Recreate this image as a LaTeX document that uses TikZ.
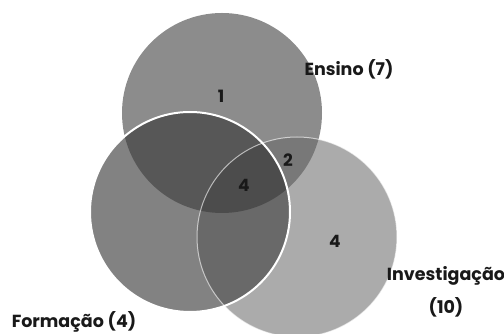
\documentclass[tikz,border=0pt]{standalone}
\usepackage{fontspec}
\setmainfont{Poppins}
\begin{document}
\begin{tikzpicture}[x=1pt,y=1pt,
  lbl/.style={font=\bfseries\fontsize{17.5}{20}\selectfont, text=black!90, inner sep=0pt},
  num/.style={font=\bfseries\fontsize{17}{20}\selectfont, text=black!90, inner sep=0pt}]
\useasboundingbox (0,0) rectangle (504,334);
\def\R{100}
\coordinate (cE) at (222,221);
\coordinate (cF) at (190,122);
\coordinate (cI) at (297,97);
% single regions
\fill[black!45] (cE) circle (\R);
\fill[black!33] (cI) circle (\R);
\fill[black!49] (cF) circle (\R);
% pairwise
\begin{scope}
  \clip (cE) circle (\R);
  \fill[black!53] (cI) circle (\R);
\end{scope}
\begin{scope}
  \clip (cE) circle (\R);
  \fill[black!66] (cF) circle (\R);
\end{scope}
\begin{scope}
  \clip (cF) circle (\R);
  \fill[black!59] (cI) circle (\R);
\end{scope}
\begin{scope}
  \clip (cF) circle (\R);
  \clip (cE) circle (\R);
  \fill[black!70] (cI) circle (\R);
\end{scope}
% outlines
\draw[white, opacity=0.6, line width=1pt] (cI) circle (\R);
\draw[white, line width=2pt] (cF) circle (\R);
% labels
\node[num] (n1) at (221,238) {1};
\node[num] (n2) at (288,174) {2};
\node[num] (n4a) at (244,149) {4};
\node[num] (n4b) at (335,93) {4};
\node[lbl] (lE) at (349,265) {Ensino (7)};
\node[lbl] (lI) at (446,58) {Investigação};
\node[lbl] (lI2) at (446,27) {(10)};
\node[lbl] (lF) at (74,12) {Formação (4)};
\end{tikzpicture}
\end{document}
